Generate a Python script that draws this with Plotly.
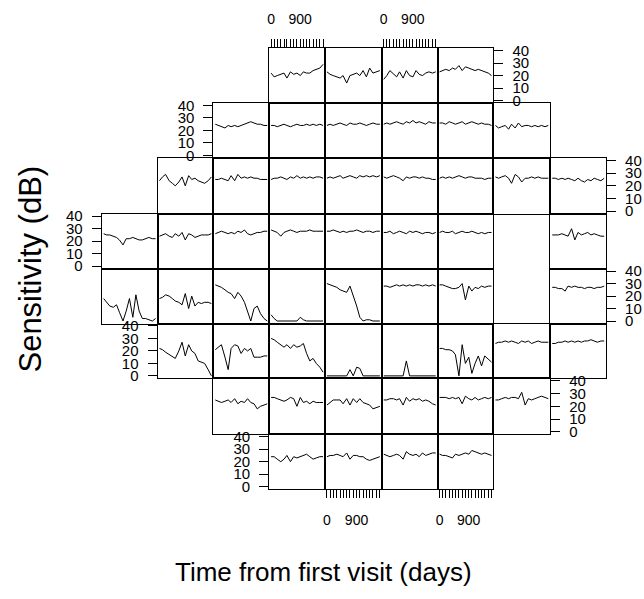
import plotly.graph_objects as go

# visit days (time from first visit)
days = [0, 95, 190, 300, 400, 490, 600, 700, 800, 905, 1000, 1100, 1200, 1300, 1400, 1510, 1610]

# starting column of each row of the 24-2 grid
row_start = [3, 2, 1, 0, 0, 1, 2, 3]

# sensitivity (dB) per location, row by row (None = blind spot)
row1 = [
    [22, 19, 20, 21, 22, 18, 23, 21, 22, 20, 23, 22, 22, 24, 25, 26, 29],
    [23, 21, 20, 19, 18, 20, 14, 20, 21, 22, 20, 24, 19, 26, 22, 23, 24],
    [17, 20, 24, 21, 19, 23, 18, 24, 20, 19, 24, 21, 20, 22, 23, 22, 23],
    [23, 24, 25, 24, 26, 25, 28, 24, 27, 26, 25, 24, 25, 24, 23, 22, 20],
]
row2 = [
    [25, 24, 23, 22, 24, 23, 24, 23, 24, 25, 26, 27, 26, 25, 25, 24, 24],
    [24, 24, 23, 24, 25, 24, 23, 24, 25, 24, 24, 25, 24, 25, 24, 25, 24],
    [24, 25, 24, 25, 26, 25, 24, 26, 25, 25, 26, 25, 24, 25, 26, 25, 25],
    [25, 26, 25, 26, 27, 26, 25, 27, 26, 28, 26, 27, 26, 25, 27, 26, 26],
    [26, 26, 25, 27, 26, 25, 26, 27, 25, 26, 27, 26, 25, 26, 25, 25, 24],
    [24, 22, 23, 24, 21, 25, 22, 26, 23, 24, 24, 23, 24, 23, 24, 23, 24],
]
row3 = [
    [24, 27, 29, 24, 22, 20, 23, 27, 20, 28, 25, 26, 24, 23, 22, 24, 27],
    [25, 25, 26, 25, 24, 28, 24, 29, 26, 27, 26, 27, 26, 26, 25, 25, 25],
    [25, 26, 26, 27, 26, 25, 27, 26, 28, 26, 27, 26, 27, 26, 27, 27, 26],
    [26, 27, 26, 27, 28, 26, 27, 28, 27, 26, 28, 27, 28, 27, 28, 27, 28],
    [27, 26, 27, 28, 27, 26, 24, 27, 26, 27, 27, 26, 27, 26, 26, 25, 25],
    [26, 27, 26, 27, 26, 27, 28, 27, 26, 27, 27, 26, 26, 26, 25, 26, 26],
    [27, 26, 27, 28, 26, 22, 29, 27, 23, 26, 26, 27, 26, 27, 26, 26, 26],
    [26, 26, 25, 26, 25, 26, 25, 24, 26, 24, 23, 25, 24, 26, 25, 24, 26],
]
row4 = [
    [26, 25, 25, 24, 23, 21, 17, 22, 22, 23, 22, 21, 21, 22, 23, 22, 22],
    [24, 25, 26, 24, 23, 26, 24, 27, 21, 26, 25, 23, 24, 25, 25, 25, 26],
    [26, 27, 28, 27, 26, 27, 26, 28, 27, 29, 26, 25, 26, 27, 27, 28, 28],
    [29, 28, 27, 24, 27, 28, 29, 28, 27, 28, 28, 28, 29, 28, 28, 28, 28],
    [28, 28, 29, 28, 27, 28, 27, 28, 28, 29, 28, 27, 28, 28, 27, 28, 28],
    [27, 27, 28, 26, 27, 28, 27, 26, 28, 27, 28, 27, 26, 27, 27, 26, 27],
    [27, 28, 27, 27, 28, 26, 27, 28, 27, 27, 28, 27, 26, 27, 26, 27, 27],
    None,
    [25, 25, 25, 26, 25, 24, 30, 21, 27, 25, 26, 27, 25, 26, 25, 24, 24],
]
row5 = [
    [18, 15, 12, 11, 13, 7, 0, 8, 18, 3, 21, 8, 2, 2, 1, 0, 2],
    [18, 19, 21, 20, 18, 16, 15, 13, 22, 10, 20, 12, 15, 14, 15, 15, 14],
    [29, 28, 27, 25, 23, 22, 18, 23, 20, 15, 8, 0, 10, 12, 6, 2, 0],
    [5, 2, 0, 0, 0, 0, 0, 0, 0, 3, 1, 0, 0, 0, 0, 0, 0],
    [30, 29, 28, 27, 25, 24, 23, 28, 21, 12, 3, 0, 1, 1, 0, 0, 0],
    [28, 28, 27, 28, 29, 28, 29, 28, 29, 28, 29, 29, 28, 29, 28, 29, 28],
    [29, 29, 28, 27, 26, 26, 27, 30, 17, 28, 24, 27, 26, 28, 27, 28, 28],
    None,
    [27, 27, 26, 26, 24, 28, 27, 28, 27, 27, 26, 27, 27, 26, 27, 27, 28],
]
row6 = [
    [22, 21, 19, 17, 15, 14, 20, 27, 16, 25, 20, 18, 12, 11, 10, 5, 0],
    [21, 23, 25, 15, 5, 22, 25, 24, 18, 22, 20, 22, 15, 15, 15, 16, 16],
    [30, 29, 27, 25, 23, 25, 22, 25, 23, 24, 26, 18, 12, 14, 10, 7, 3],
    [0, 0, 0, 0, 0, 0, 0, 5, 0, 7, 6, 0, 0, 0, 0, 0, 0],
    [0, 0, 0, 0, 0, 0, 0, 12, 0, 0, 0, 0, 0, 0, 0, 0, 0],
    [22, 22, 21, 21, 20, 17, 0, 25, 10, 15, 2, 10, 16, 8, 16, 13, 11],
    [26, 27, 27, 28, 27, 28, 27, 26, 28, 27, 28, 26, 27, 28, 27, 27, 27],
    [26, 26, 27, 27, 28, 27, 28, 27, 28, 27, 28, 28, 29, 28, 27, 28, 28],
]
row7 = [
    [25, 24, 23, 24, 25, 23, 26, 22, 24, 23, 26, 23, 22, 18, 20, 21, 22],
    [27, 27, 26, 25, 24, 25, 27, 26, 20, 27, 23, 24, 22, 24, 23, 23, 23],
    [21, 23, 25, 25, 25, 22, 26, 21, 26, 23, 26, 23, 22, 21, 18, 19, 20],
    [25, 25, 26, 26, 25, 26, 21, 27, 24, 26, 25, 26, 24, 25, 24, 22, 21],
    [27, 27, 27, 26, 27, 26, 27, 22, 28, 26, 25, 27, 25, 26, 27, 26, 27],
    [25, 25, 26, 27, 26, 27, 27, 26, 31, 21, 26, 25, 26, 27, 28, 27, 26],
]
row8 = [
    [24, 24, 22, 20, 22, 25, 20, 24, 23, 24, 25, 26, 24, 22, 23, 24, 24],
    [24, 25, 25, 26, 25, 24, 27, 22, 25, 25, 24, 24, 22, 21, 22, 23, 24],
    [26, 25, 24, 25, 26, 25, 22, 28, 26, 25, 26, 24, 27, 25, 26, 27, 27],
    [26, 25, 25, 24, 23, 26, 25, 26, 27, 26, 29, 28, 27, 26, 27, 26, 25],
]
rows = [row1, row2, row3, row4, row5, row6, row7, row8]

y_ticks = [0, 10, 20, 30, 40]
x_ticks = [0, 900]
x_ticktext = ["0", "900"]

# y-axis side shown per row (attached to the row's outer panel)
y_axis_side = ["right", "left", "right", "left", "right", "left", "right", "left"]
# x-axes shown: (row, col, side)
x_axis_shown = {(0, 3): "top", (0, 5): "top", (7, 4): "bottom", (7, 6): "bottom"}

W, H = 644, 599
LEFT, TOP = 99.5, 42.7
CW, RH = 56.25, 56.3
FONT = "Liberation Sans, Arial, Helvetica, sans-serif"

# integer pixel boundaries so shared panel edges coincide
xb = [round(LEFT + i * CW) for i in range(10)]
yb = [round(TOP + i * RH) for i in range(9)]

fig = go.Figure()
k = 0
for r, row in enumerate(rows):
    c0 = row_start[r]
    ncols = len(row)
    for j, series in enumerate(row):
        c = c0 + j
        k += 1
        xa = "xaxis" if k == 1 else f"xaxis{k}"
        ya = "yaxis" if k == 1 else f"yaxis{k}"
        xref = "x" if k == 1 else f"x{k}"
        yref = "y" if k == 1 else f"y{k}"
        x0 = xb[c] / W
        x1 = xb[c + 1] / W
        ytop = yb[r]
        ybot = yb[r + 1]
        if series is not None:
            fig.add_trace(go.Scatter(x=days, y=series, mode="lines",
                                     line=dict(color="black", width=1),
                                     xaxis=xref, yaxis=yref, showlegend=False,
                                     hoverinfo="skip"))
        xside = x_axis_shown.get((r, c))
        xdict = dict(domain=[x0, x1], range=[-60, 1670], showgrid=False,
                     zeroline=False, showline=True, mirror=True,
                     linecolor="black", linewidth=1, anchor=yref,
                     fixedrange=True)
        if xside:
            xdict.update(side=xside, tickmode="array", tickvals=x_ticks,
                         ticktext=x_ticktext, ticks="outside", ticklen=8,
                         tickcolor="black", tickwidth=1, showticklabels=True,
                         ticklabelstandoff=10,
                         tickfont=dict(family=FONT, size=14, color="black"),
                         minor=dict(tickmode="array", tickvals=days,
                                    ticks="outside", ticklen=8,
                                    tickcolor="black", tickwidth=1))
        else:
            xdict.update(showticklabels=False, ticks="")
        ydict = dict(domain=[1 - ybot / H, 1 - ytop / H], range=[-2, 42],
                     showgrid=False, zeroline=False, showline=True,
                     mirror=True, linecolor="black", linewidth=1,
                     anchor=xref, fixedrange=True)
        side = y_axis_side[r]
        outer = (side == "left" and j == 0) or (side == "right" and j == ncols - 1)
        if outer:
            ydict.update(side=side, tickmode="array", tickvals=y_ticks,
                         ticks="outside", ticklen=9, tickcolor="black",
                         tickwidth=1, showticklabels=True,
                         ticklabelstandoff=6,
                         tickfont=dict(family=FONT, size=15, color="black"))
        else:
            ydict.update(showticklabels=False, ticks="")
        fig.layout[xa] = xdict
        fig.layout[ya] = ydict

fig.add_annotation(text="Sensitivity (dB)", x=29 / W, y=1 - 268 / H,
                   xref="paper", yref="paper", showarrow=False, textangle=-90,
                   xanchor="center", yanchor="middle",
                   font=dict(family=FONT, size=31, color="black"))
fig.add_annotation(text="Time from first visit (days)", x=322 / W,
                   y=1 - 578 / H, xref="paper", yref="paper", showarrow=False,
                   xanchor="center", yanchor="middle",
                   font=dict(family=FONT, size=26, color="black"))

fig.update_layout(width=W, height=H, margin=dict(l=0, r=0, t=0, b=0),
                  paper_bgcolor="white", plot_bgcolor="white",
                  autosize=False)
fig.write_html("out.html")
